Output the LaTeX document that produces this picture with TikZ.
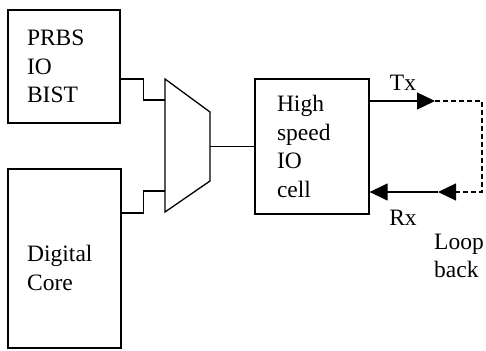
\documentclass[tikz,border=0pt]{standalone}
\usepackage{fontspec}
\setmainfont{Liberation Serif}
\usetikzlibrary{arrows.meta}

\begin{document}
\begin{tikzpicture}[x=1pt,y=-1pt,
    blk/.style={draw,line width=1.3pt,align=left,inner sep=0pt},
    lbl/.style={inner sep=0pt,align=left},
    wire/.style={line width=1.3pt},
    tri/.style={-{Triangle[length=18pt,width=17pt]}},
    loopwire/.style={line width=1.3pt,dash pattern=on 5pt off 3pt},
    font=\fontsize{23.5}{28.5}\selectfont]
    \useasboundingbox (0,0) rectangle (486,350);
    \node[blk,minimum width=112pt,minimum height=113pt,text width=74pt] (prbs) at (64,66.5) {PRBS\\IO\\BIST};
    \node[blk,minimum width=113pt,minimum height=179pt] (core) at (64.5,258.5) {};
    \node[lbl,anchor=west] (coretxt) at (27,268) {Digital\\Core};
    \node[blk,minimum width=114pt,minimum height=135pt,text width=70pt] (hs) at (312,146.5) {High\\speed\\IO\\cell};
    % mux
    \coordinate (min1) at (165,100);
    \coordinate (min2) at (165,191);
    \coordinate (mout) at (210,146.5);
    \draw[wire] (165,79) -- (210,112) -- (210,181) -- (165,212) -- cycle;
    \draw[wire] ([yshift=-12.5pt]prbs.east) -- ++(23,0) |- (min1);
    \draw[wire] ([yshift=45.5pt]core.east) -- ++(22,0) |- (min2);
    \draw[wire] (mout) -- (hs.west);
    % loop back
    \coordinate (txtip) at (435,101);
    \coordinate (lpa) at (482,101);
    \coordinate (lpb) at (482,192);
    \coordinate (rxbase) at (457,192);
    \coordinate (rxtip) at (438,192);
    \draw[wire,tri] ([yshift=45.5pt]hs.east) -- (txtip);
    \draw[loopwire] (txtip) -- (lpa) -- (lpb) -- (rxbase);
    \draw[wire,tri] (rxbase) -- (rxtip);
    \draw[wire,tri] (rxtip) -- ([yshift=-45.5pt]hs.east);
    \node[lbl] (tx) at (403,83) {Tx};
    \node[lbl] (rx) at (403,218) {Rx};
    \node[lbl,anchor=north west] (loopback) at (434,233.5) {Loop\\back};
\end{tikzpicture}
\end{document}
